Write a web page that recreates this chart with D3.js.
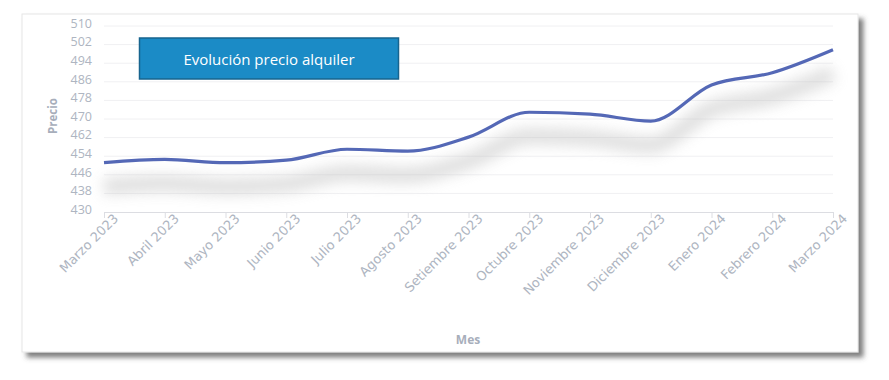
<!DOCTYPE html>
<html>

<head>
    <meta charset="utf-8">
    <title>Evolución precio alquiler</title>
    <script src="https://d3js.org/d3.v7.min.js"></script>
    <style>
        body {
            margin: 0;
            background: #ffffff;
        }

        .tick text {
            fill: #aeb5c1;
        }
    </style>
</head>

<body>
    <svg id="chart" width="889" height="380"></svg>

    <script>
        // month labels and prices
        var meses = ["Marzo 2023", "Abril 2023", "Mayo 2023", "Junio 2023", "Julio 2023", "Agosto 2023",
            "Setiembre 2023", "Octubre 2023", "Noviembre 2023", "Diciembre 2023", "Enero 2024",
            "Febrero 2024", "Marzo 2024"];
        var precios = [451.2, 452.6, 451.2, 452.3, 457.0, 456.2, 462.2, 472.9, 472.1, 469.1, 484.6, 489.9, 499.8];
        var yTicks = [430, 438, 446, 454, 462, 470, 478, 486, 494, 502, 510];
        var titulo = "Evolución precio alquiler";

        var svg = d3.select("#chart");
        var defs = svg.append("defs");

        var cardShadow = defs.append("filter").attr("id", "cardShadow")
            .attr("x", "-5%").attr("y", "-5%").attr("width", "115%").attr("height", "115%");
        cardShadow.append("feDropShadow")
            .attr("dx", 5).attr("dy", 5).attr("stdDeviation", 2.5)
            .attr("flood-color", "#555").attr("flood-opacity", 0.75);

        var lineShadow = defs.append("filter").attr("id", "lineShadow")
            .attr("x", "-10%").attr("y", "-50%").attr("width", "120%").attr("height", "200%");
        lineShadow.append("feGaussianBlur").attr("stdDeviation", 7);

        // card
        svg.append("rect")
            .attr("x", 22).attr("y", 14)
            .attr("width", 836).attr("height", 338)
            .attr("fill", "#fff")
            .attr("stroke", "#e6e6e6")
            .attr("filter", "url(#cardShadow)");

        var margin = { top: 26, left: 104 },
            width = 729,
            height = 186;

        var g = svg.append("g")
            .attr("transform", "translate(" + margin.left + "," + margin.top + ")");

        var x = d3.scalePoint().domain(meses).range([0, width]);
        var y = d3.scaleLinear().domain([430, 510]).range([height, 0]);

        // grid lines
        g.append("g")
            .selectAll("line")
            .data(yTicks.slice(1))
            .enter()
            .append("line")
            .attr("x1", 0).attr("x2", width)
            .attr("y1", d => y(d)).attr("y2", d => y(d))
            .attr("stroke", "#f0f0f2")
            .attr("stroke-width", 1);

        // y axis
        var yAxis = g.append("g")
            .call(d3.axisLeft(y).tickValues(yTicks).tickSize(0).tickPadding(12));
        yAxis.select(".domain").remove();
        yAxis.selectAll("text")
            .style("font-family", "'Open Sans', sans-serif")
            .style("font-size", "12.5px")
            .attr("dy", "0.1em");

        // x axis
        var xAxis = g.append("g")
            .attr("transform", "translate(0," + height + ")")
            .call(d3.axisBottom(x).tickSize(6).tickSizeOuter(0));
        xAxis.select(".domain").attr("stroke", "#dcdde2");
        xAxis.selectAll(".tick line").attr("stroke", "#dcdde2");
        xAxis.selectAll("text")
            .style("font-family", "'DejaVu Sans', sans-serif")
            .style("font-size", "13px")
            .attr("text-anchor", "end")
            .attr("dx", "0.4em")
            .attr("dy", "0.5em")
            .attr("transform", "rotate(-45)");

        var line = d3.line()
            .x((d, i) => x(meses[i]))
            .y(d => y(d))
            .curve(d3.curveMonotoneX);

        // soft shadow under the line
        g.append("path")
            .datum(precios)
            .attr("d", line)
            .attr("transform", "translate(0,24)")
            .attr("fill", "none")
            .attr("stroke", "#b8b8b8")
            .attr("stroke-width", 16)
            .attr("opacity", 0.45)
            .attr("filter", "url(#lineShadow)");

        g.append("path")
            .datum(precios)
            .attr("d", line)
            .attr("fill", "none")
            .attr("stroke", "#5468b6")
            .attr("stroke-width", 3.2)
            .attr("stroke-linejoin", "round");

        // axis titles
        svg.append("text")
            .attr("transform", "translate(57,116) rotate(-90)")
            .attr("text-anchor", "middle")
            .attr("font-family", "'Open Sans', sans-serif")
            .attr("font-weight", "bold")
            .attr("font-size", 11.5)
            .attr("fill", "#a7aebb")
            .text("Precio");

        svg.append("text")
            .attr("x", 468).attr("y", 344)
            .attr("text-anchor", "middle")
            .attr("font-family", "'Open Sans', sans-serif")
            .attr("font-weight", "bold")
            .attr("font-size", 12)
            .attr("fill", "#a7aebb")
            .text("Mes");

        // title box
        svg.append("rect")
            .attr("x", 139.5).attr("y", 38)
            .attr("width", 259).attr("height", 41)
            .attr("fill", "#1b8bc6")
            .attr("stroke", "#17648e")
            .attr("stroke-width", 1.5);

        svg.append("text")
            .attr("x", 269).attr("y", 65)
            .attr("text-anchor", "middle")
            .attr("font-family", "'Open Sans', sans-serif")
            .attr("font-size", 15)
            .attr("fill", "#fff")
            .text(titulo);
    </script>
</body>

</html>
